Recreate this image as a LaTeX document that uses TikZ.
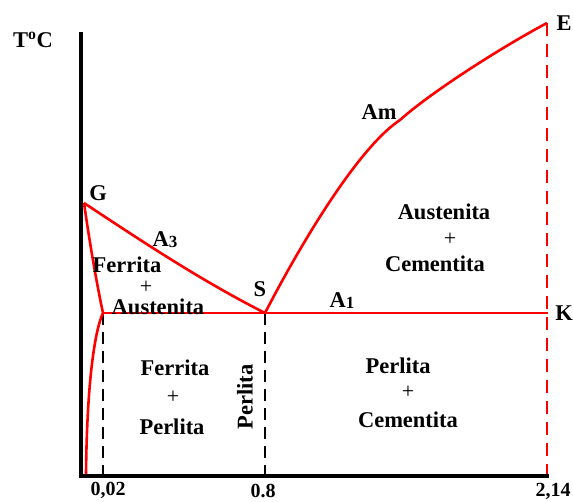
\documentclass[tikz,border=0pt]{standalone}
\usepackage{fontspec}
\setmainfont{Liberation Serif}
\begin{document}
\begin{tikzpicture}[x=1pt,y=-1pt,
  lbl/.style={font=\fontsize{22.5}{24}\selectfont\bfseries, inner sep=0pt},
  plus/.style={font=\fontsize{22}{22}\selectfont, inner sep=0pt},
  tick/.style={font=\fontsize{20}{22}\selectfont\bfseries, inner sep=0pt},
  redline/.style={draw=red, line width=2.6pt, line join=round},
  reddash/.style={draw=red, line width=1.4pt, dash pattern=on 13pt off 8pt},
  blackdash/.style={draw=black, line width=1.3pt, dash pattern=on 12pt off 7pt},
  axis/.style={draw=black, line width=4.5pt}]
\useasboundingbox (0,0) rectangle (573,501);
% key points
\coordinate (O) at (81,476);
\coordinate (Ytop) at (81,32);
\coordinate (Xend) at (549,476);
\coordinate (G) at (84,203);
\coordinate (P) at (103,313);
\coordinate (S) at (265,313);
\coordinate (K) at (548,313);
\coordinate (E) at (547,23);
\coordinate (M) at (400,120);
\coordinate (Ebot) at (547,476);
\coordinate (Fbot) at (86,474);
\coordinate (Pbot) at (103,474);
\coordinate (Sbot) at (265,474);
% dashed verticals
\draw[blackdash] (P) -- (Pbot);
\draw[blackdash] (S) -- (Sbot);
\draw[reddash] (E) -- (Ebot);
% red lines
\draw[redline] (G) .. controls (90,245) and (97,285) .. (P);
\draw[redline] (P) .. controls (95,330) and (87,380) .. (Fbot);
\draw[redline] (G) .. controls (140,240) and (200,280) .. (S);
\draw[redline] (P) -- (K);
\draw[redline] (S) .. controls (295,255) and (355,150) .. (M)
                   .. controls (430,93) and (500,48) .. (E);
% axes
\draw[axis] (Ytop) -- (O.center) -- (Xend);
% labels
\node[lbl] (tc) at (33,40) {T\textsuperscript{o}C};
\node[lbl] (lG) at (98,193) {G};
\node[lbl] (lE) at (564,23) {E};
\node[lbl] (lK) at (564,313) {K};
\node[lbl] (lS) at (260,289) {S};
\node[lbl] (lA3) at (165,240) {A\raisebox{-1pt}{\fontsize{17}{17}\selectfont 3}};
\node[lbl] (lA1) at (342,301) {A\raisebox{-1pt}{\fontsize{17}{17}\selectfont 1}};
\node[lbl] (lAm) at (379,112) {Am};
\node[lbl] (fa1) at (127,265) {Ferrita};
\node[plus] (fa2) at (146,287) {+};
\node[lbl] (fa3) at (158,307) {Austenita};
\node[lbl] (ac1) at (444,212) {Austenita};
\node[plus] (ac2) at (450,239) {+};
\node[lbl] (ac3) at (435,264) {Cementita};
\node[lbl] (fp1) at (175,368) {Ferrita};
\node[plus] (fp2) at (173,397) {+};
\node[lbl] (fp3) at (172,427) {Perlita};
\node[lbl, rotate=90] (pl) at (245,397) {Perlita};
\node[lbl] (pc1) at (398,366) {Perlita};
\node[plus] (pc2) at (408,392) {+};
\node[lbl] (pc3) at (408,420) {Cementita};
\node[tick] (t1) at (108,490) {0,02};
\node[tick] (t2) at (263,491) {0.8};
\node[tick] (t3) at (553,491) {2,14};
\end{tikzpicture}
\end{document}
